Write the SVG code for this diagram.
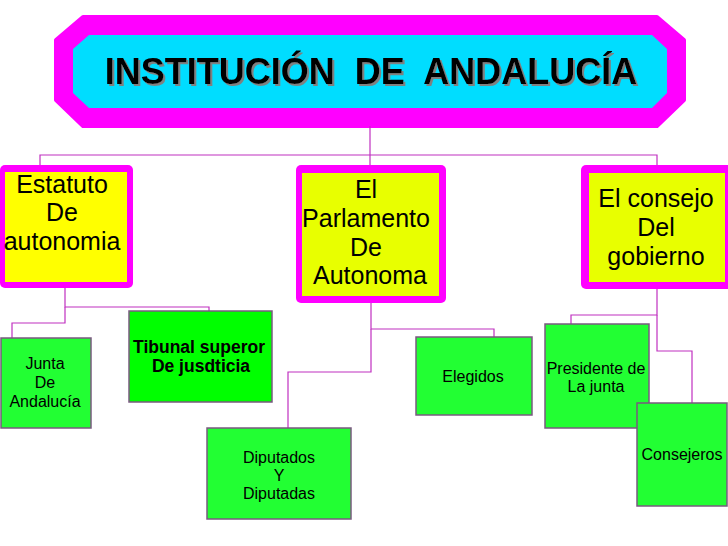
<svg xmlns="http://www.w3.org/2000/svg" width="728" height="546" viewBox="0 0 728 546">
<defs>
<filter id="shadow" x="-5%" y="-20%" width="110%" height="150%">
<feDropShadow dx="2" dy="2" stdDeviation="0.6" flood-color="#808080" flood-opacity="1"/>
</filter>
<style>
.big{font-family:"Liberation Sans",Arial,sans-serif;font-size:25px;fill:#000;text-anchor:middle}
.sm{font-family:"Liberation Sans",Arial,sans-serif;font-size:16px;fill:#000;text-anchor:middle}
.smb{font-family:"Liberation Sans",Arial,sans-serif;font-size:17.5px;font-weight:bold;fill:#000;text-anchor:middle}
.title{font-family:"Liberation Sans",Arial,sans-serif;font-size:36px;font-weight:bold;text-anchor:middle;white-space:pre;fill:#000}
.outer{fill:#ff00ff}
.green{fill:#22ff33;stroke:#7a5a80;stroke-width:1.5}
.conn{fill:none;stroke:#c030c0;stroke-width:1.2}
</style>
</defs>
<rect width="728" height="546" fill="#ffffff"/>

<g id="title">
<polygon points="83,17 657,17 684,40 684,100 657,126 83,126 56,100 56,40" fill="#ff00ff" stroke="#ff00ff" stroke-width="4" stroke-linejoin="round"/>
<polygon points="89,35 652,35 667,49 667,93 652,108 89,108 73,93 73,49" fill="#00ddff"/>
<text class="title" x="371" y="84" filter="url(#shadow)" xml:space="preserve">INSTITUCIÓN  DE  ANDALUCÍA</text>
</g>

<g id="connectors">
<polyline class="conn" points="370,126 370,155"/>
<polyline class="conn" points="40,165 40,155 657,155 657,165"/>
<polyline class="conn" points="370,155 370,165"/>
<polyline class="conn" points="65,288 65,307 209,307 209,311"/>
<polyline class="conn" points="65,307 65,323 12,323 12,338"/>
<polyline class="conn" points="371,303 371,329 494,329 494,337"/>
<polyline class="conn" points="371,329 371,372 288,372 288,428"/>
<polyline class="conn" points="657,289 657,315 571,315 571,324"/>
<polyline class="conn" points="657,315 657,351 692,351 692,403"/>
</g>

<g id="estatuto">
<rect class="outer" x="0" y="165" width="133" height="123" rx="5"/>
<rect x="5" y="172" width="122" height="110" fill="#ffff00"/>
<text class="big" x="62" y="193">Estatuto</text>
<text class="big" x="62" y="221">De</text>
<text class="big" x="62" y="250">autonomia</text>
</g>

<g id="parlamento">
<rect class="outer" x="296" y="165" width="150" height="138" rx="5"/>
<rect x="302" y="173" width="137" height="123" fill="#e8ff00"/>
<text class="big" x="366" y="198">El</text>
<text class="big" x="366" y="227">Parlamento</text>
<text class="big" x="366" y="256">De</text>
<text class="big" x="370" y="284">Autonoma</text>
</g>

<g id="consejo">
<rect class="outer" x="581" y="165" width="152" height="124" rx="5"/>
<rect x="589" y="173" width="136" height="109" fill="#e8ff00"/>
<text class="big" x="656" y="207">El consejo</text>
<text class="big" x="656" y="236">Del</text>
<text class="big" x="656" y="265">gobierno</text>
</g>

<g id="junta">
<rect class="green" x="1" y="338" width="90" height="90"/>
<text class="sm" x="45" y="369">Junta</text>
<text class="sm" x="45" y="388">De</text>
<text class="sm" x="45" y="407">Andalucía</text>
</g>

<g id="tibunal">
<rect class="green" x="129" y="311" width="143" height="91" style="fill:#00ff00"/>
<text class="smb" x="199" y="353">Tibunal superor</text>
<text class="smb" x="201" y="372">De jusdticia</text>
</g>

<g id="elegidos">
<rect class="green" x="416" y="337" width="116" height="78"/>
<text class="sm" x="473" y="382">Elegidos</text>
</g>

<g id="diputados">
<rect class="green" x="207" y="428" width="144" height="91"/>
<text class="sm" x="279" y="463">Diputados</text>
<text class="sm" x="279" y="481">Y</text>
<text class="sm" x="279" y="499">Diputadas</text>
</g>

<g id="presidente">
<rect class="green" x="545" y="324" width="104" height="104"/>
<text class="sm" x="596" y="374">Presidente de</text>
<text class="sm" x="596" y="392">La junta</text>
</g>

<g id="consejeros">
<rect class="green" x="637" y="403" width="90" height="103"/>
<text class="sm" x="682" y="460">Consejeros</text>
</g>
</svg>
